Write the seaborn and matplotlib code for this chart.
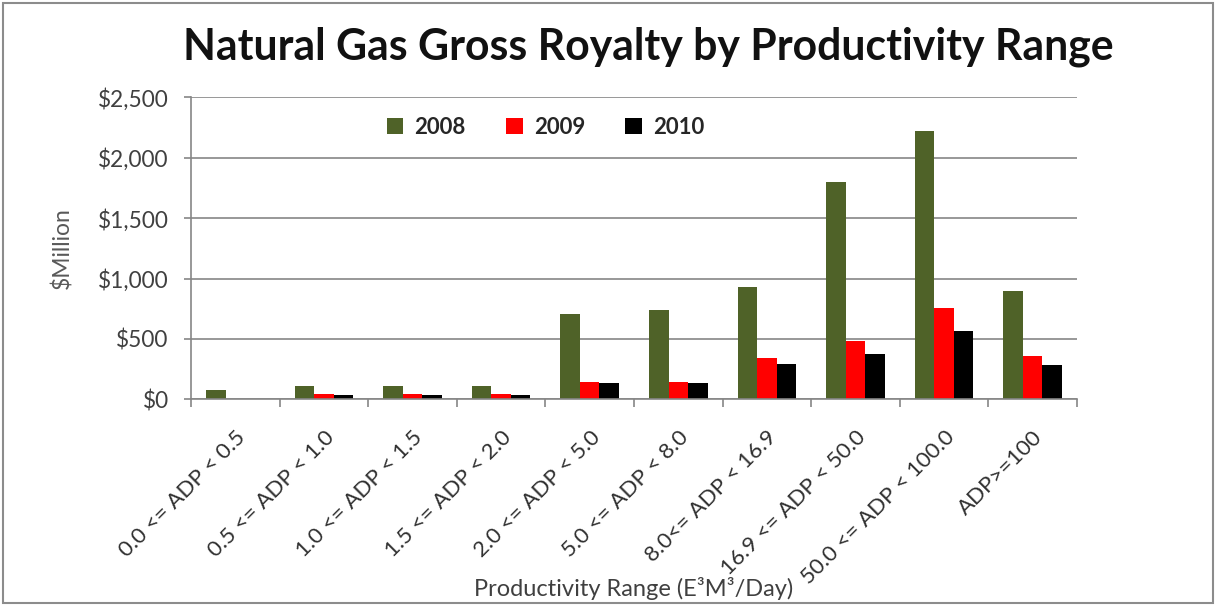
import numpy as np
import pandas as pd
import matplotlib
matplotlib.use("Agg")
import matplotlib.pyplot as plt
import seaborn as sns
from matplotlib.patches import Rectangle, Patch
from matplotlib.ticker import FuncFormatter, FixedLocator

ranges = ["0.0 <= ADP < 0.5", "0.5 <= ADP < 1.0", "1.0 <= ADP < 1.5",
          "1.5 <= ADP < 2.0", "2.0 <= ADP < 5.0", "5.0 <= ADP < 8.0",
          "8.0<= ADP < 16.9", "16.9 <= ADP < 50.0", "50.0 <= ADP < 100.0",
          "ADP>=100"]
years = ["2008", "2009", "2010"]
royalty_2008 = [80, 113, 113, 113, 708, 742, 933, 1797, 2217, 900]
royalty_2009 = [0, 40, 40, 40, 147, 147, 342, 486, 758, 358]
royalty_2010 = [0, 37, 37, 37, 133, 133, 294, 375, 567, 280]
colors = ["#4F6228", "#FF0000", "#000000"]

df = pd.DataFrame({
    "range": ranges * 3,
    "year": sum([[y] * len(ranges) for y in years], []),
    "value": royalty_2008 + royalty_2009 + royalty_2010,
})

sns.set_theme(style="white")
plt.rcParams["font.family"] = ["Lato", "DejaVu Sans"]

fig = plt.figure(figsize=(12.17, 6.05), dpi=100)
ax = fig.add_axes([191 / 1217, 1 - 399.3 / 605, 886 / 1217, (399.3 - 97.3) / 605])

sns.barplot(data=df, x="range", y="value", hue="year", order=ranges,
            hue_order=years, palette=colors, saturation=1, width=0.66,
            ax=ax, legend=False, linewidth=0)

grid_c = "#868686"
ax.set_ylim(0, 2500)
ax.set_xlim(-0.5, len(ranges) - 0.5)
ax.set_yticks(np.arange(0, 2501, 500))
ax.yaxis.set_major_formatter(FuncFormatter(lambda v, p: f"${v:,.0f}"))
ax.grid(axis="y", color=grid_c, linewidth=1.2)
ax.set_axisbelow(True)
for s in ["top", "right"]:
    ax.spines[s].set_visible(False)
for s in ["left", "bottom"]:
    ax.spines[s].set_color(grid_c)
    ax.spines[s].set_linewidth(1.2)

ax.tick_params(axis="y", which="major", length=5, color=grid_c, width=1.2,
               labelsize=16.3, labelcolor="#404040", pad=11, left=True)
ax.xaxis.set_minor_locator(FixedLocator(np.arange(-0.5, len(ranges), 1.0)))
ax.tick_params(axis="x", which="minor", length=6, color=grid_c, width=1.2,
               bottom=True, direction="out")
ax.tick_params(axis="x", which="major", length=0, labelsize=16,
               labelcolor="#303030", pad=20)
plt.setp(ax.get_xticklabels(), rotation=45, ha="right", rotation_mode="anchor")

ax.set_xlabel("Productivity Range (E³M³/Day)", fontsize=17, color="#404040")
ax.xaxis.set_label_coords(0.5, (399.3 - 577) / 302)
ax.set_ylabel("$Million", fontsize=16.5, color="#595959", labelpad=18)

handles = [Patch(facecolor=c, edgecolor="none") for c in colors]
leg = ax.legend(handles, years, ncol=3, frameon=False, loc="center",
                bbox_to_anchor=(0.40, 0.90), prop={"weight": "bold", "size": 16},
                handlelength=0.75, handleheight=0.75, columnspacing=1.8,
                handletextpad=0.5)

fig.text(648 / 1217, 1 - 47 / 605, "Natural Gas Gross Royalty by Productivity Range",
         ha="center", va="center", fontsize=30.8, fontweight="bold", color="#111111")

fig.patches.append(Rectangle((3 / 1217, 2 / 605), 1210 / 1217, 600 / 605,
                             transform=fig.transFigure, fill=False,
                             edgecolor="#8c8c8c", linewidth=1.5))

fig.savefig("out.png", dpi=100)
